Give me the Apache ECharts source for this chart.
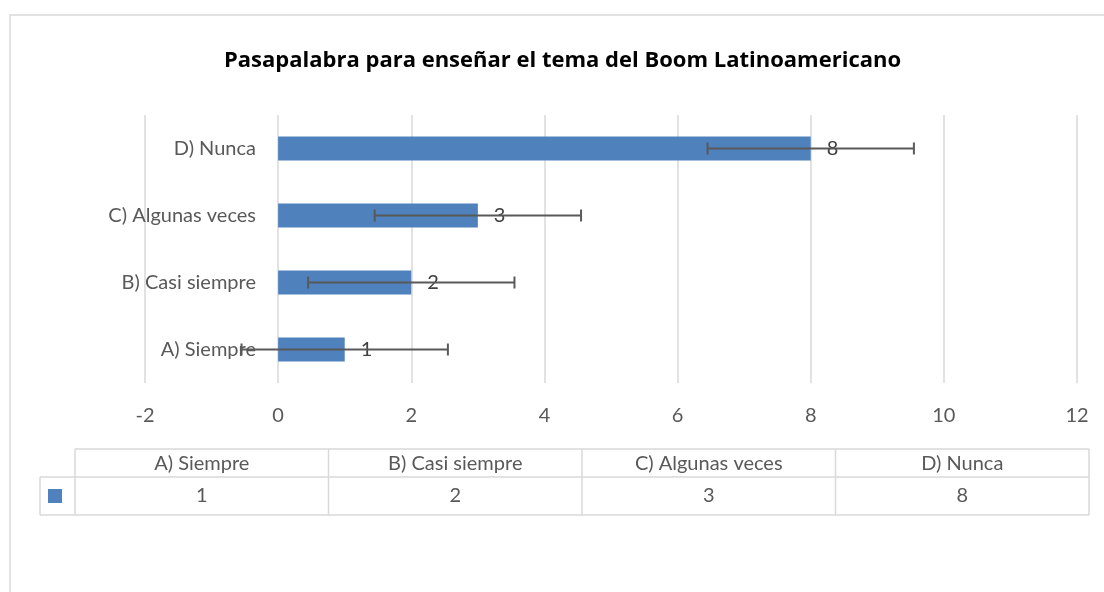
<!DOCTYPE html>
<html>
<head>
<meta charset="utf-8">
<script src="https://cdn.jsdelivr.net/npm/echarts@6/dist/echarts.min.js"></script>
<style>
  html, body { margin: 0; padding: 0; background: #fff; }
  #chart { width: 1104px; height: 592px; }
</style>
</head>
<body>
<div id="chart"></div>
<script>
// datos del gráfico
var categories = ['A) Siempre', 'B) Casi siempre', 'C) Algunas veces', 'D) Nunca'];
var values = [1, 2, 3, 8];
var errorAmount = [1.55, 1.55, 1.55, 1.55];
var xTicks = [-2, 0, 2, 4, 6, 8, 10, 12];

var FONT = 'Lato';
var myChart = echarts.init(document.getElementById('chart'));

// barras de error
var errorData = values.map(function (v, i) {
    return [i, v - errorAmount[i], v + errorAmount[i]];
});

// tabla de datos debajo del eje
var tableLeft = 75, colW = 253.5, headTop = 449, rowMid = 477, rowBottom = 515, keyLeft = 40;
var tableRight = tableLeft + colW * categories.length;
var lineStyle = { stroke: '#d9d9d9', lineWidth: 1.5 };
var graphics = [
    { type: 'rect', shape: { x: 10, y: 15, width: 1300, height: 800 }, style: { fill: null, stroke: '#d9d9d9', lineWidth: 1.5 }, silent: true },
    { type: 'line', shape: { x1: tableLeft, y1: headTop, x2: tableRight, y2: headTop }, style: lineStyle },
    { type: 'line', shape: { x1: keyLeft, y1: rowMid, x2: tableRight, y2: rowMid }, style: lineStyle },
    { type: 'line', shape: { x1: keyLeft, y1: rowBottom, x2: tableRight, y2: rowBottom }, style: lineStyle },
    { type: 'line', shape: { x1: keyLeft, y1: rowMid, x2: keyLeft, y2: rowBottom }, style: lineStyle },
    { type: 'rect', shape: { x: 48, y: 489, width: 14, height: 14 }, style: { fill: '#4f81bd' } }
];
for (var c = 0; c <= categories.length; c++) {
    var x = tableLeft + colW * c;
    graphics.push({ type: 'line', shape: { x1: x, y1: headTop, x2: x, y2: rowBottom }, style: lineStyle });
}
categories.forEach(function (name, i) {
    var cx = tableLeft + colW * (i + 0.5);
    graphics.push({ type: 'text', x: cx, y: (headTop + rowMid) / 2 + 1, style: { text: name, fill: '#595959', font: '20px ' + FONT, align: 'center', verticalAlign: 'middle' } });
    graphics.push({ type: 'text', x: cx, y: (rowMid + rowBottom) / 2, style: { text: String(values[i]), fill: '#595959', font: '20px ' + FONT, align: 'center', verticalAlign: 'middle' } });
});

var option = {
    animation: false,
    title: {
        text: 'Pasapalabra para enseñar el tema del Boom Latinoamericano',
        left: 219,
        top: 45,
        textStyle: { fontFamily: 'Open Sans', fontSize: 22, fontWeight: 'bold', color: '#000' }
    },
    grid: { left: 145, right: 27, top: 115, bottom: 209, containLabel: false, outerBoundsMode: 'none' },
    xAxis: {
        type: 'value',
        min: xTicks[0],
        max: xTicks[xTicks.length - 1],
        interval: 2,
        axisLine: { show: false },
        axisTick: { show: false },
        axisLabel: { color: '#595959', fontFamily: FONT, fontSize: 20, margin: 23 },
        splitLine: { lineStyle: { color: '#d9d9d9', width: 1.5 } }
    },
    yAxis: {
        type: 'category',
        data: categories,
        offset: -134, // el eje vertical cruza en 0
        axisLine: { show: false },
        axisTick: { show: false },
        axisLabel: { color: '#595959', fontFamily: FONT, fontSize: 20, margin: 23 }
    },
    series: [
        {
            type: 'bar',
            data: values,
            barWidth: 24,
            itemStyle: { color: '#4f81bd' },
            label: { show: true, position: 'right', distance: 16, color: '#404040', fontFamily: FONT, fontSize: 20 }
        },
        {
            type: 'custom',
            data: errorData,
            z: 5,
            renderItem: function (params, api) {
                var cat = api.value(0);
                var lo = api.coord([api.value(1), cat]);
                var hi = api.coord([api.value(2), cat]);
                var h = 6;
                var st = { stroke: '#595959', lineWidth: 2 };
                return {
                    type: 'group',
                    children: [
                        { type: 'line', shape: { x1: lo[0], y1: lo[1], x2: hi[0], y2: hi[1] }, style: st },
                        { type: 'line', shape: { x1: lo[0], y1: lo[1] - h, x2: lo[0], y2: lo[1] + h }, style: st },
                        { type: 'line', shape: { x1: hi[0], y1: hi[1] - h, x2: hi[0], y2: hi[1] + h }, style: st }
                    ]
                };
            }
        }
    ],
    graphic: graphics
};

myChart.setOption(option);
</script>
</body>
</html>
